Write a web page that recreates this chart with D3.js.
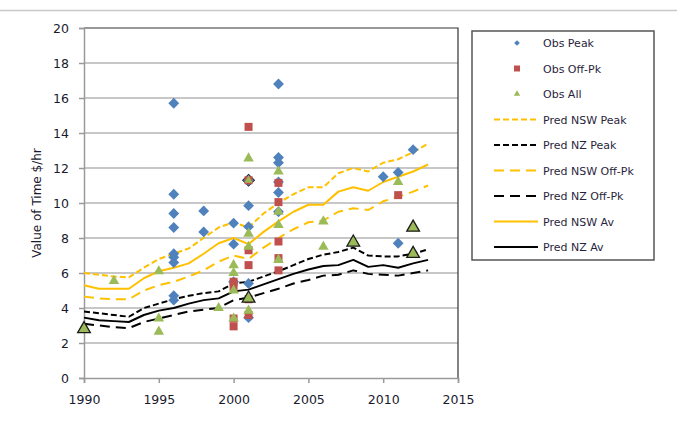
<!DOCTYPE html>
<html>
<head>
<meta charset="utf-8">
<script src="https://cdn.jsdelivr.net/npm/d3@7"></script>
<style>
  html, body { margin: 0; padding: 0; background: #fff; }
  svg { display: block; font-family: "DejaVu Sans", Verdana, sans-serif; }
</style>
</head>
<body>
<svg id="chart" width="677" height="423"></svg>
<script>
// ---------------- DATA ----------------
const years = [1990,1991,1992,1993,1994,1995,1996,1997,1998,1999,2000,2001,2002,2003,2004,2005,2006,2007,2008,2009,2010,2011,2012,2013];

const predNSWPeak = [6.0,5.9,5.8,5.75,6.3,6.8,7.1,7.4,8.0,8.6,8.9,8.6,9.4,10.0,10.5,10.9,10.9,11.7,12.0,11.8,12.3,12.5,12.9,13.4];
const predNZPeak  = [3.8,3.7,3.6,3.5,4.0,4.25,4.5,4.7,4.85,4.95,5.4,5.5,5.8,6.1,6.45,6.8,7.05,7.2,7.45,7.0,6.95,6.95,7.1,7.35];
const predNSWOff  = [4.65,4.55,4.5,4.5,5.0,5.3,5.5,5.8,6.15,6.65,7.0,6.8,7.45,8.0,8.5,8.9,9.0,9.5,9.7,9.6,10.1,10.35,10.65,11.0];
const predNZOff   = [3.1,3.0,2.9,2.85,3.2,3.4,3.6,3.8,3.9,4.0,4.45,4.6,4.85,5.1,5.4,5.6,5.85,5.9,6.15,5.95,5.9,5.85,6.0,6.15];
const predNSWAv   = [5.3,5.1,5.1,5.1,5.7,6.1,6.3,6.55,7.1,7.7,8.0,7.65,8.35,8.95,9.5,9.9,9.9,10.65,10.9,10.7,11.2,11.5,11.8,12.2];
const predNZAv    = [3.45,3.3,3.25,3.2,3.6,3.85,4.0,4.25,4.45,4.55,4.95,5.05,5.35,5.65,5.95,6.2,6.4,6.45,6.75,6.35,6.45,6.3,6.55,6.75];

const obsPeak = [
  [1996,15.7],[1996,10.5],[1996,9.4],[1996,8.6],[1996,7.1],[1996,6.9],[1996,6.6],[1996,4.7],[1996,4.45],
  [1998,9.55],[1998,8.35],
  [2000,8.85],[2000,7.65],[2000,5.5],
  [2001,11.3],[2001,9.85],[2001,8.65],[2001,5.4],[2001,3.45],
  [2003,16.8],[2003,12.6],[2003,12.3],[2003,11.2],[2003,10.6],[2003,9.5],
  [2010,11.5],[2011,11.75],[2011,7.7],[2012,13.05]
];
const obsOffPk = [
  [2000,5.5],[2000,5.2],[2000,3.4],[2000,2.95],
  [2001,14.35],[2001,11.3],[2001,7.3],[2001,6.45],[2001,4.5],[2001,3.6],
  [2003,11.15],[2003,10.05],[2003,7.8],[2003,6.85],[2003,6.15],
  [2011,10.45]
];
const obsAll = [
  [1992,5.55],[1995,6.1],[1995,3.4],[1995,2.65],[1999,4.0],
  [2000,6.45],[2000,6.0],[2000,5.0],[2000,3.4],
  [2001,12.55],[2001,8.25],[2001,7.5],[2001,3.85],
  [2003,11.8],[2003,9.5],[2003,8.75],[2003,6.75],
  [2006,8.95],[2006,7.5],[2011,11.2]
];
const obsAllMean = [[1990,2.8],[2001,4.55],[2008,7.75],[2012,8.6],[2012,7.1]];
const obsMixed = [[2001,11.3]];

const xTicks = [1990,1995,2000,2005,2010,2015];
const yTicks = [0,2,4,6,8,10,12,14,16,18,20];
const yTitle = "Value of Time $/hr";
const legendLabels = ["Obs Peak","Obs Off-Pk","Obs All","Pred NSW Peak","Pred NZ Peak","Pred NSW Off-Pk","Pred NZ Off-Pk","Pred NSW Av","Pred NZ Av"];

// ---------------- STYLE ----------------
const BLUE = "#4F81BD", RED = "#C0504D", GREEN = "#9BBB59", ORANGE = "#FFC000", BLACK = "#000";
const SHORT = "6,3", LONG = "10,6";

const svg = d3.select("#chart");
const m = {left: 84, right: 458, top: 28, bottom: 378};
const x = d3.scaleLinear().domain([1990, 2015]).range([m.left, m.right]);
const y = d3.scaleLinear().domain([0, 20]).range([m.bottom, m.top]);

// outer frame top line
svg.append("line").attr("x1", 0).attr("x2", 677).attr("y1", 10.5).attr("y2", 10.5)
  .attr("stroke", "#c8c8c8").attr("stroke-width", 1.5);

// gridlines
svg.append("g").selectAll("line").data(yTicks.filter(d => d > 0 && d < 20)).join("line")
  .attr("x1", m.left).attr("x2", m.right)
  .attr("y1", d => y(d)).attr("y2", d => y(d))
  .attr("stroke", "#b4b4b4").attr("stroke-width", 1.5);

// plot border top/right
svg.append("path")
  .attr("d", `M${m.left},${m.top}H${m.right}V${m.bottom}`)
  .attr("fill", "none").attr("stroke", "#333").attr("stroke-width", 1.2);

// axes
const yAxis = d3.axisLeft(y).tickValues(yTicks).tickSize(5).tickPadding(10).tickFormat(d3.format("d"));
const gy = svg.append("g").attr("transform", `translate(${m.left},0)`).call(yAxis);
const xAxis = d3.axisBottom(x).tickValues(xTicks).tickSize(5).tickPadding(12).tickFormat(d3.format("d"));
const gx = svg.append("g").attr("transform", `translate(0,${m.bottom})`).call(xAxis);
[gx, gy].forEach(g => {
  g.select(".domain").attr("stroke", "#9a9a9a").attr("stroke-width", 1.5);
  g.selectAll(".tick line").attr("stroke", "#9a9a9a").attr("stroke-width", 1.5);
  g.selectAll(".tick text").attr("fill", "#1a1a2e").style("font-size", "12.5px")
    .style("font-family", "'DejaVu Sans', Verdana, sans-serif");
});

// y title
svg.append("text").attr("transform", `translate(41,${(m.top + m.bottom) / 2}) rotate(-90)`)
  .attr("text-anchor", "middle").attr("fill", "#1a1a2e").style("font-size", "12px").text(yTitle);

// prediction lines
const lineGen = d3.line().x((d, i) => x(years[i])).y(d => y(d));
const lines = [
  {v: predNSWPeak, c: ORANGE, dash: SHORT},
  {v: predNZPeak, c: BLACK, dash: SHORT},
  {v: predNSWOff, c: ORANGE, dash: LONG},
  {v: predNZOff, c: BLACK, dash: LONG},
  {v: predNSWAv, c: ORANGE, dash: null},
  {v: predNZAv, c: BLACK, dash: null}
];
svg.append("g").selectAll("path").data(lines).join("path")
  .attr("d", d => lineGen(d.v))
  .attr("fill", "none").attr("stroke", d => d.c).attr("stroke-width", 2)
  .attr("stroke-dasharray", d => d.dash).attr("stroke-linejoin", "round");

// markers
const sym = (type, size) => d3.symbol().type(type).size(size)();
function drawPts(data, type, size, fill, stroke) {
  svg.append("g").selectAll("path").data(data).join("path")
    .attr("transform", d => `translate(${x(d[0])},${y(d[1])})`)
    .attr("d", sym(type, size))
    .attr("fill", fill)
    .attr("stroke", stroke || "none").attr("stroke-width", stroke ? 1.3 : 0);
}
drawPts(obsMixed, d3.symbolDiamond2, 110, "#1a1a1a");
drawPts(obsPeak, d3.symbolDiamond2, 75, BLUE);
drawPts(obsOffPk, d3.symbolSquare, 64, RED);
drawPts(obsAll, d3.symbolTriangle, 48, GREEN);
drawPts(obsMixed, d3.symbolTriangle, 30, GREEN);
drawPts(obsAllMean, d3.symbolTriangle, 70, GREEN, "#1a1a1a");

// legend
const lg = svg.append("g");
lg.append("rect").attr("x", 472).attr("y", 31).attr("width", 182).attr("height", 229)
  .attr("fill", "#fff").attr("stroke", "#555").attr("stroke-width", 1.5);
const rowY = i => 43 + i * 25.5;
legendLabels.forEach((lab, i) => {
  const cy = rowY(i);
  if (i === 0) lg.append("path").attr("transform", `translate(517,${cy})`).attr("d", sym(d3.symbolDiamond2, 20)).attr("fill", BLUE);
  if (i === 1) lg.append("path").attr("transform", `translate(517,${cy})`).attr("d", sym(d3.symbolSquare, 36)).attr("fill", RED);
  if (i === 2) lg.append("path").attr("transform", `translate(517,${cy})`).attr("d", sym(d3.symbolTriangle, 18)).attr("fill", GREEN);
  if (i >= 3) {
    const L = lines[i - 3];
    lg.append("line").attr("x1", 494).attr("x2", 538).attr("y1", cy).attr("y2", cy)
      .attr("stroke", L.c).attr("stroke-width", 2).attr("stroke-dasharray", L.dash);
  }
  lg.append("text").attr("x", 543).attr("y", cy + 4).attr("fill", "#2a1f3d")
    .style("font-size", "11px").text(lab);
});
</script>
</body>
</html>
